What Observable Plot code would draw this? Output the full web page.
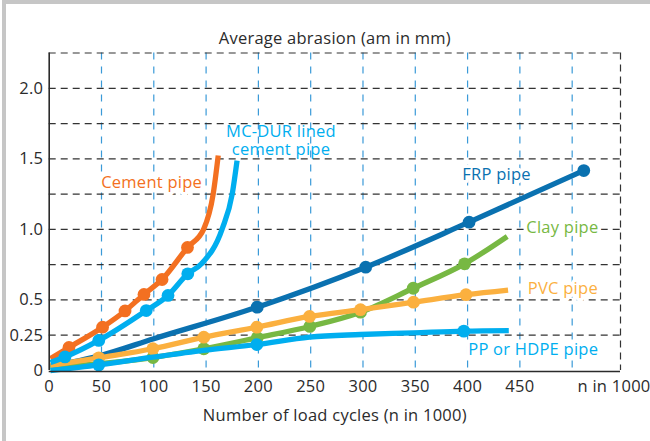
<!DOCTYPE html>
<html>
<head>
<meta charset="utf-8">
<script src="https://cdn.jsdelivr.net/npm/d3@7"></script>
<script src="https://cdn.jsdelivr.net/npm/@observablehq/plot@0.6"></script>
<style>
  html, body { margin: 0; padding: 0; background: #fff; }
  #wrap { position: relative; width: 650px; height: 441px; overflow: hidden; }
  #frame { position: absolute; left: 2px; top: 0; width: 700px; height: 500px;
           border-left: 4px solid #c6c6c6; border-top: 4px solid #c6c6c6; pointer-events: none; }
  svg { display: block; }
</style>
</head>
<body>
<div id="wrap"><div id="chart"></div><div id="frame"></div></div>
<script>
// ---- data (x in 1000 load cycles, y = average abrasion in mm) ----
const cementX = [1.2, 18.9, 51.0, 72.5, 90.6, 107.9, 132.2, 147.8, 156.8, 161.6];
const cementY = [0.085, 0.163, 0.307, 0.422, 0.539, 0.645, 0.872, 1.004, 1.252, 1.524];
const cementDots = [1, 2, 3, 4, 5, 6];

const mcdurX = [1.2, 15.1, 47.4, 92.8, 113.6, 132.5, 145.6, 165.4, 175.0, 179.6];
const mcdurY = [0.057, 0.096, 0.213, 0.425, 0.532, 0.685, 0.756, 1.004, 1.252, 1.488];
const mcdurDots = [1, 2, 3, 4, 5];

const frpX = [1.2, 49.0, 100.0, 198.9, 302.6, 401.4, 511.1];
const frpY = [0.028, 0.106, 0.225, 0.449, 0.732, 1.051, 1.417];
const frpDots = [3, 4, 5, 6];

const clayX = [1.2, 99.2, 147.8, 198.9, 249.2, 297.6, 348.0, 397.1, 437.9];
const clayY = [0.021, 0.092, 0.154, 0.232, 0.312, 0.413, 0.583, 0.756, 0.950];
const clayDots = [1, 2, 3, 4, 5, 6, 7];

const pvcX = [1.2, 47.4, 99.1, 147.8, 198.5, 248.9, 297.6, 348.3, 398.5, 438.7];
const pvcY = [0.035, 0.090, 0.154, 0.236, 0.307, 0.383, 0.431, 0.484, 0.537, 0.570];
const pvcDots = [1, 2, 3, 4, 5, 6, 7, 8];

const ppX = [1.2, 47.4, 99.1, 147.8, 198.5, 248.9, 297.6, 348.3, 396.4, 439.4];
const ppY = [0.0, 0.040, 0.094, 0.142, 0.184, 0.237, 0.255, 0.267, 0.279, 0.283];
const ppDots = [1, 4, 8];

const seriesNames = ["FRP pipe", "Clay pipe", "PVC pipe", "PP or HDPE pipe", "Cement pipe", "MC-DUR lined cement pipe"];
const seriesColors = ["#0a71b0", "#77b843", "#fbb03f", "#00aeef", "#f37021", "#00aeef"];

const labelTexts = ["Cement pipe", "MC-DUR lined", "cement pipe", "FRP pipe", "Clay pipe", "PVC pipe", "PP or HDPE pipe"];
const labelX = [49.7, 221.6, 221.6, 394.9, 456.1, 457.6, 400.6];
const labelY = [1.334, 1.694, 1.562, 1.387, 1.011, 0.579, 0.147];
const labelColors = ["#f37021", "#00aeef", "#00aeef", "#0a71b0", "#77b843", "#fbb03f", "#00aeef"];
const labelAnchors = ["start", "middle", "middle", "start", "start", "start", "start"];
const labelHalo = [true, false, false, true, true, true, true];

const xTicks = [0, 50, 100, 150, 200, 250, 300, 350, 400, 450, 540];
const xTickLabels = ["0", "50", "100", "150", "200", "250", "300", "350", "400", "450", "n in 1000"];
const yTicks = [0, 0.25, 0.5, 1.0, 1.5, 2.0];
const yTickLabels = ["0", "0.25", "0.5", "1.0", "1.5", "2.0"];
const hGrid = [0.25, 0.5, 0.75, 1.0, 1.25, 1.5, 1.75, 2.0, 2.25];
const vGrid = [50, 100, 150, 200, 250, 300, 350, 400, 450, 500];
const xMax = 546.2, yMax = 2.25;

const titleText = "Average abrasion (am in mm)";
const xTitleText = "Number of load cycles (n in 1000)";

// ---- build tables ----
const raw = [
  [frpX, frpY, frpDots], [clayX, clayY, clayDots], [pvcX, pvcY, pvcDots],
  [ppX, ppY, ppDots], [cementX, cementY, cementDots], [mcdurX, mcdurY, mcdurDots]
];
const lineMarks = [];
raw.forEach(([xs, ys, dots], s) => {
  const pts = xs.map((x, i) => ({x, y: ys[i], name: seriesNames[s]}));
  const col = seriesColors[s];
  lineMarks.push(Plot.line(pts, {x: "x", y: "y", stroke: col, strokeWidth: 5.3, curve: "monotone-x", strokeLinecap: "butt"}));
  lineMarks.push(Plot.dot(dots.map(i => pts[i]), {x: "x", y: "y", r: 6.4, fill: col, stroke: "none"}));
});
const labels = labelTexts.map((t, i) => ({t, x: labelX[i], y: labelY[i], c: labelColors[i], a: labelAnchors[i], h: labelHalo[i]}));

const textColor = "#2b2b2b";
const FS = 16.5;
const chart = Plot.plot({
  width: 650, height: 441,
  marginLeft: 48.7, marginRight: 30, marginTop: 52.5, marginBottom: 71,
  x: {domain: [0, xMax], axis: null},
  y: {domain: [0, yMax], axis: null},
  style: {fontFamily: "'Open Sans', sans-serif", letterSpacing: "0.25px", background: "transparent", overflow: "visible"},
  marks: [
    Plot.ruleX(vGrid, {stroke: "#3a9ad8", strokeWidth: 1.2, strokeDasharray: "7,7"}),
    Plot.ruleY(hGrid, {stroke: "#333", strokeWidth: 1.2, strokeDasharray: "7,5"}),
    Plot.ruleX([xMax], {stroke: "#333", strokeWidth: 1.2, strokeDasharray: "7,5"}),
    ...lineMarks,
    Plot.ruleX([0], {stroke: "#2b2b2b", strokeWidth: 1.6}),
    Plot.ruleY([0], {stroke: "#2b2b2b", strokeWidth: 1.6, dy: 1}),
    ...labels.map(l => Plot.text([l], l.h
      ? {x: "x", y: "y", text: "t", fill: l.c, textAnchor: l.a, fontSize: FS, stroke: "white", strokeWidth: 7, paintOrder: "stroke"}
      : {x: "x", y: "y", text: "t", fill: l.c, textAnchor: l.a, fontSize: FS})),
    Plot.text(yTicks, {y: d => d, text: (d, i) => yTickLabels[i], frameAnchor: "left", dx: -6,
        textAnchor: "end", fontSize: FS, fill: textColor}),
    Plot.text(xTicks, {x: d => d, text: (d, i) => xTickLabels[i], frameAnchor: "bottom", dy: 21,
        textAnchor: d => d === 0 ? "start" : "middle", fontSize: FS, fill: textColor}),
    Plot.text([titleText], {text: d => d, frameAnchor: "top", dy: -20.5, fontSize: FS, fill: textColor}),
    Plot.text([xTitleText], {text: d => d, frameAnchor: "bottom", dy: 50.5, fontSize: FS, fill: textColor})
  ]
});
document.getElementById("chart").appendChild(chart);
</script>
</body>
</html>
